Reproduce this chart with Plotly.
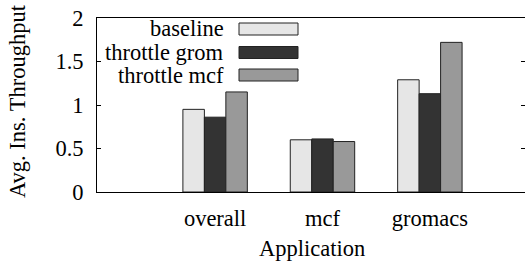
import plotly.graph_objects as go

categories = ["overall", "mcf", "gromacs"]
series_names = ["baseline", "throttle grom", "throttle mcf"]
baseline = [0.95, 0.60, 1.29]
throttle_grom = [0.86, 0.61, 1.13]
throttle_mcf = [1.15, 0.58, 1.72]
y_ticks = [0, 0.5, 1, 1.5, 2]
y_ticktext = ["0", "0.5", "1", "1.5", "2"]
colors = ["#e6e6e6", "#333333", "#999999"]

FONT = '"Liberation Serif", "Times New Roman", Times, serif'
FS = 22.5
W, H = 525, 264
# plot area in page pixels: left 97, top 18, bottom 192, right 525
ML, MT = 97, 18
MB = H - 192
MR = 0

pw = W - ML - MR
ph = H - MT - MB
def px_x(p):  # page px -> paper
    return (p - ML) / pw
def px_y(p):
    return 1 - (p - MT) / ph

fig = go.Figure()
for name, vals, col in zip(series_names, [baseline, throttle_grom, throttle_mcf], colors):
    fig.add_trace(go.Bar(
        x=list(range(len(categories))), y=vals, name=name,
        marker=dict(color=col, line=dict(color="#222222", width=1)),
        showlegend=False,
    ))
# empty trace so the mirrored right-hand tick axis is drawn
fig.add_trace(go.Scatter(x=[], y=[], yaxis="y2", showlegend=False, hoverinfo="skip"))

# manual legend (text left of swatch, like gnuplot)
row_y = [29, 52.5, 75]
for name, col, ry in zip(series_names, colors, row_y):
    fig.add_annotation(x=px_x(226), y=px_y(ry), xref="paper", yref="paper",
                       text=name, showarrow=False, xanchor="right", yanchor="middle",
                       font=dict(family=FONT, size=FS, color="black"))
    fig.add_shape(type="rect", xref="paper", yref="paper",
                  x0=px_x(239), x1=px_x(298), y0=px_y(ry - 6), y1=px_y(ry + 6),
                  fillcolor=col, line=dict(color="#222222", width=1))

# axis titles
fig.add_annotation(x=px_x(17), y=px_y(101), xref="paper", yref="paper",
                   text="Avg. Ins. Throughput", textangle=-90, showarrow=False,
                   xanchor="center", yanchor="middle",
                   font=dict(family=FONT, size=FS, color="black"))
fig.add_annotation(x=px_x(312), y=px_y(248), xref="paper", yref="paper",
                   text="Application", showarrow=False,
                   xanchor="center", yanchor="middle",
                   font=dict(family=FONT, size=FS, color="black"))

fig.update_layout(
    width=W, height=H,
    margin=dict(l=ML, r=MR, t=MT, b=MB, pad=0, autoexpand=False),
    paper_bgcolor="white", plot_bgcolor="white",
    barmode="group", bargap=0.4, bargroupgap=0,
    font=dict(family=FONT, size=FS, color="black"),
    xaxis=dict(
        range=[-1.1, 2.886], tickmode="array",
        tickvals=list(range(len(categories))), ticktext=categories,
        showline=True, linecolor="black", linewidth=1, mirror=True,
        ticks="", showgrid=False, zeroline=False, automargin=False,
        tickfont=dict(family=FONT, size=FS), ticklabelstandoff=6,
    ),
    yaxis=dict(
        range=[0, 2], tickmode="array", tickvals=y_ticks, ticktext=y_ticktext,
        showline=True, linecolor="black", linewidth=1,
        ticks="inside", ticklen=4, tickcolor="black",
        showgrid=False, zeroline=False, automargin=False,
        tickfont=dict(family=FONT, size=FS),
        ticklabelstandoff=8, ticklabeloverflow="allow",
    ),
    yaxis2=dict(
        range=[0, 2], overlaying="y", side="right", tickmode="array", tickvals=y_ticks,
        showline=False, ticks="inside", ticklen=4, tickcolor="black",
        showticklabels=False, showgrid=False, zeroline=False, automargin=False,
    ),
)

fig.write_html("out.html", config={"displayModeBar": False},
               post_script="document.body.style.margin='0';")
